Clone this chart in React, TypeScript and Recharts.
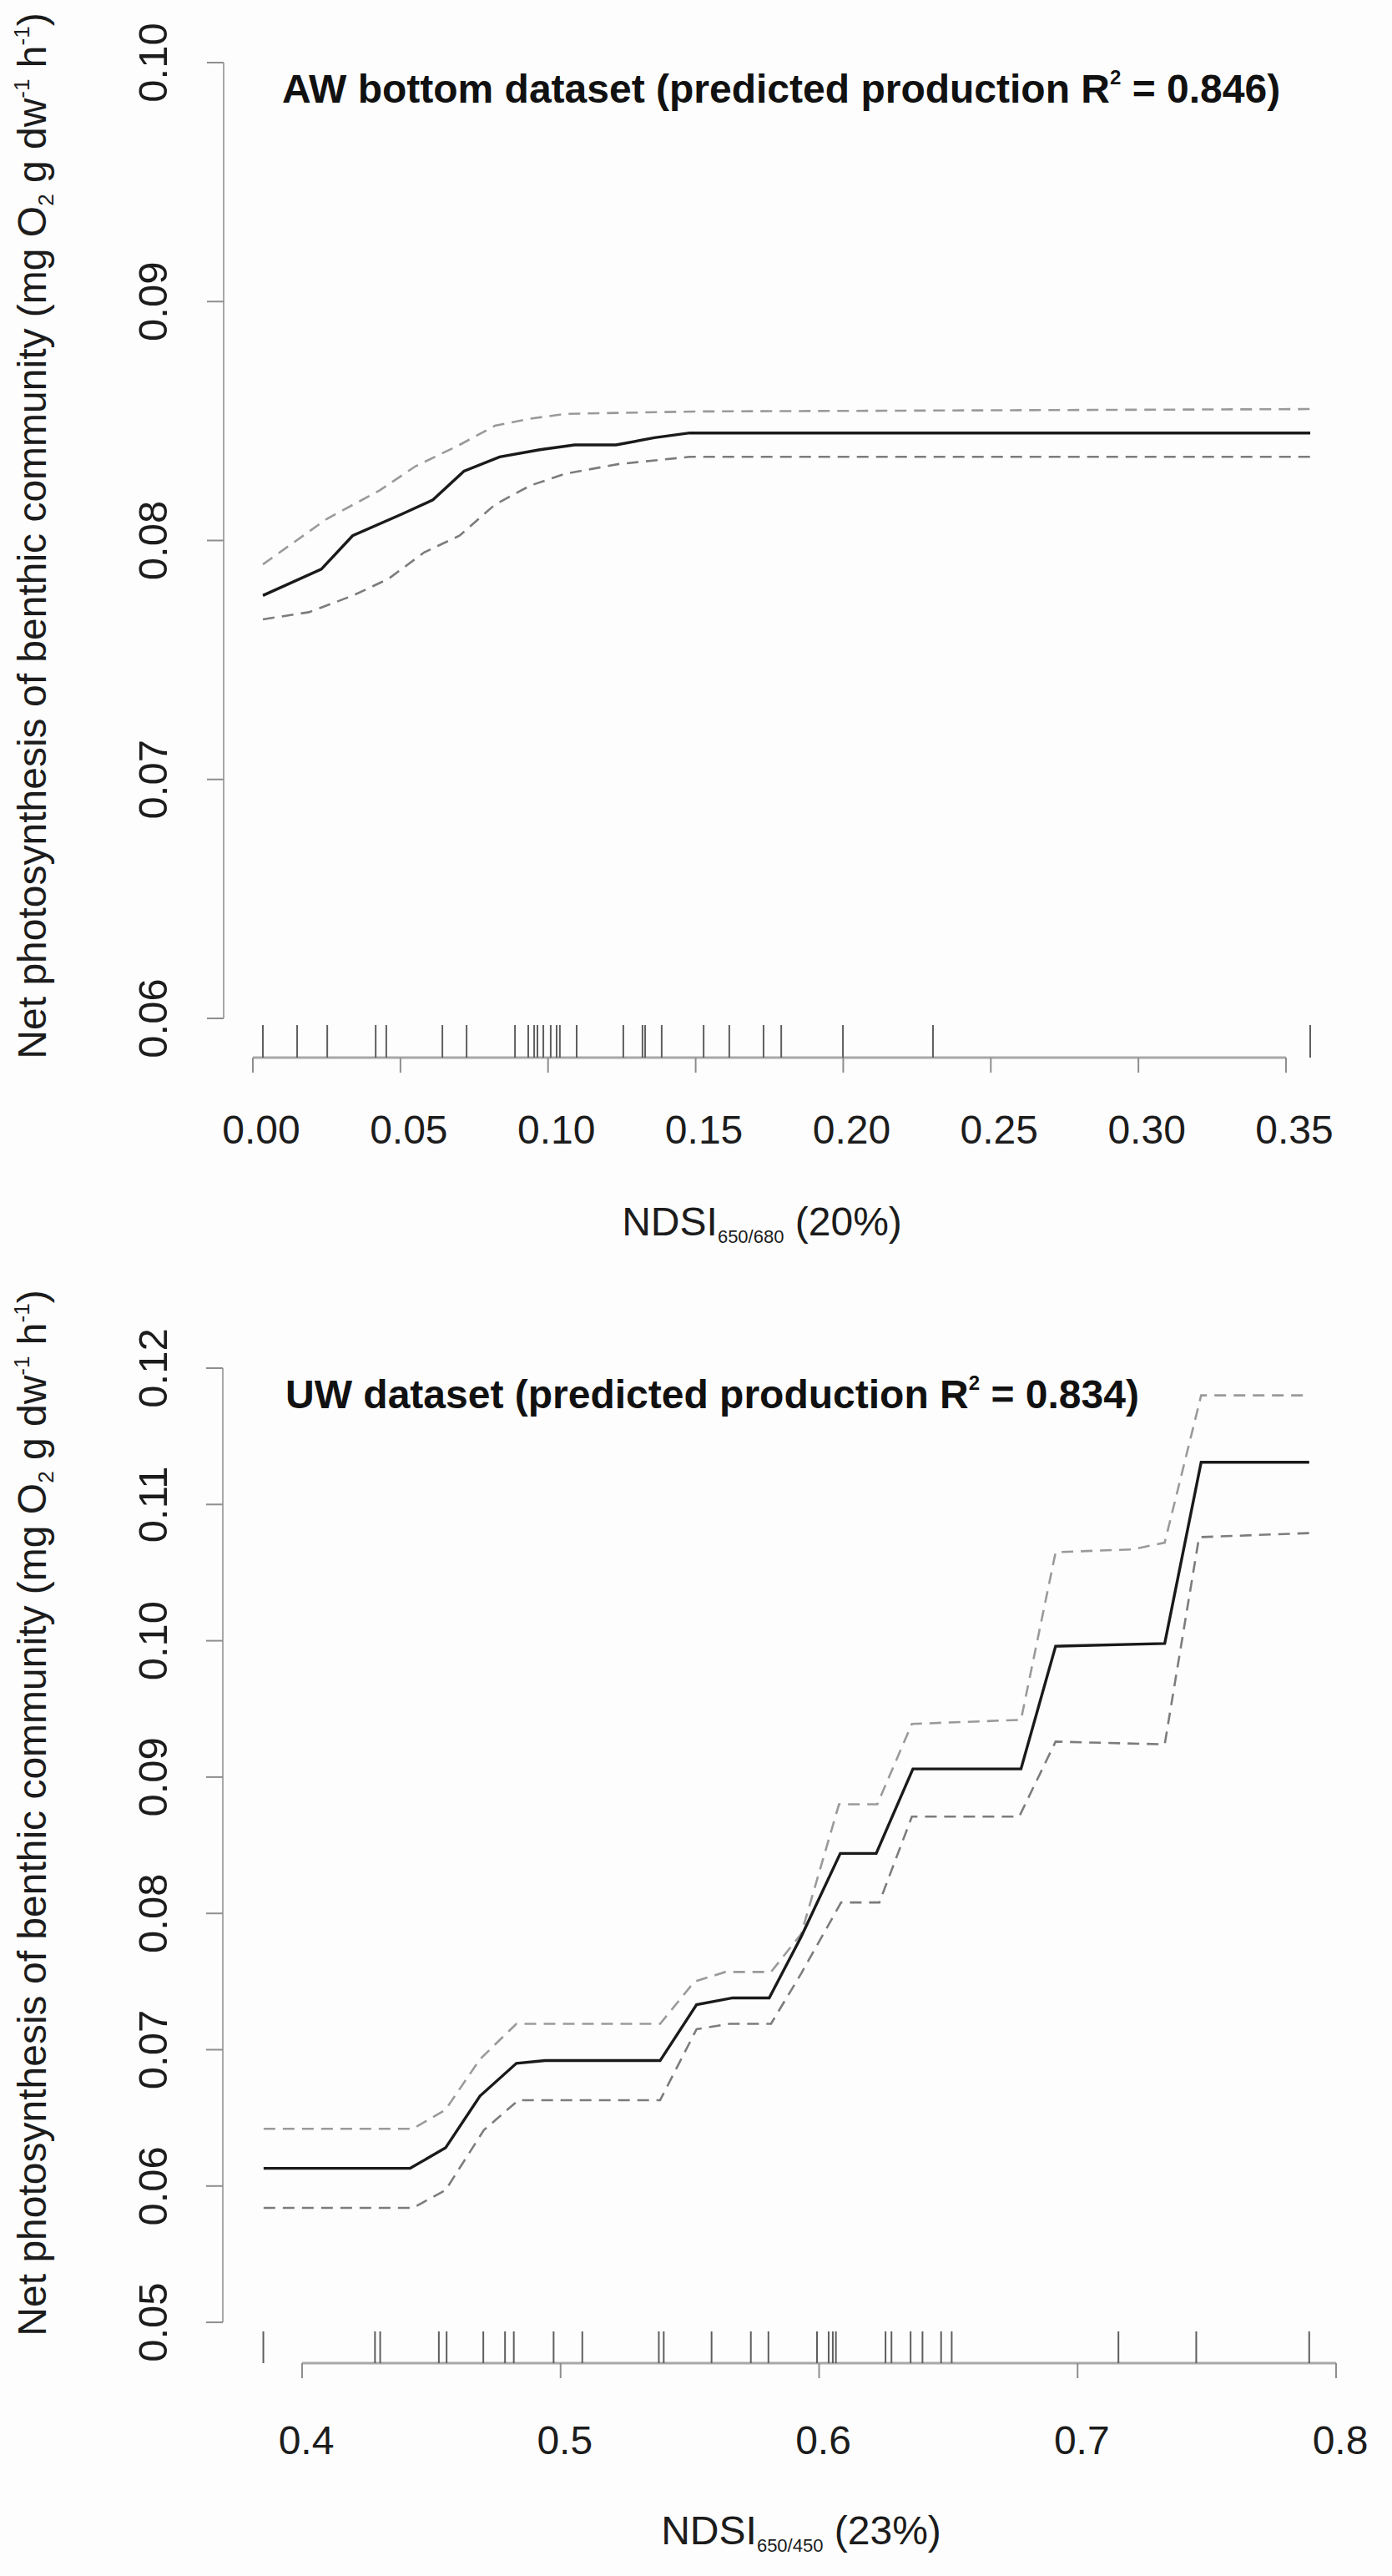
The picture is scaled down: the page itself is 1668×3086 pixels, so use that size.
import React from 'react';
import { LineChart, Line, XAxis, YAxis, ReferenceLine } from 'recharts';

const FONT = '"Liberation Sans", Arial, Helvetica, sans-serif';

// ---------- Panel 1: AW bottom dataset ----------
const awFitX = [0.0034, 0.0232, 0.0338, 0.0504, 0.061, 0.0715, 0.0836, 0.0972, 0.109, 0.123, 0.136, 0.148, 0.3582];
const awFitY = [0.0777, 0.0788, 0.0802, 0.0811, 0.0817, 0.0829, 0.0835, 0.0838, 0.084, 0.084, 0.0843, 0.0845, 0.0845];
const awUpperX = [0.0034, 0.025, 0.043, 0.055, 0.07, 0.082, 0.094, 0.106, 0.15, 0.3582];
const awUpperY = [0.079, 0.0809, 0.0821, 0.0831, 0.084, 0.0848, 0.0851, 0.0853, 0.0854, 0.0855];
const awLowerX = [0.0034, 0.019, 0.034, 0.046, 0.058, 0.07, 0.082, 0.094, 0.106, 0.124, 0.148, 0.3582];
const awLowerY = [0.0767, 0.077, 0.0777, 0.0784, 0.0795, 0.0802, 0.0815, 0.0823, 0.0828, 0.0832, 0.0835, 0.0835];
const awRug = [
  0.0034, 0.015, 0.0252, 0.0416, 0.0452, 0.0642, 0.0724, 0.0888, 0.0933, 0.0953, 0.0964, 0.0984,
  0.1009, 0.1029, 0.104, 0.1097, 0.1255, 0.132, 0.1329, 0.1385, 0.1527, 0.1614, 0.173, 0.179,
  0.1999, 0.2304, 0.3582,
];
const awXTicks = [0, 0.05, 0.1, 0.15, 0.2, 0.25, 0.3, 0.35];
const awXTickLabels = ['0.00', '0.05', '0.10', '0.15', '0.20', '0.25', '0.30', '0.35'];
const awYTicks = [0.06, 0.07, 0.08, 0.09, 0.1];
const awYTickLabels = ['0.06', '0.07', '0.08', '0.09', '0.10'];

// ---------- Panel 2: UW dataset ----------
const uwFitX = [0.3851, 0.4418, 0.4555, 0.4688, 0.4829, 0.494, 0.5385, 0.5526, 0.5666, 0.5807, 0.5931, 0.6082, 0.6221, 0.6363, 0.6781, 0.6915, 0.7337, 0.7478, 0.7896];
const uwFitY = [0.0613, 0.0613, 0.0628, 0.0666, 0.069, 0.0692, 0.0692, 0.0733, 0.0738, 0.0738, 0.0783, 0.0844, 0.0844, 0.0906, 0.0906, 0.0996, 0.0998, 0.1131, 0.1131];
const uwUpperX = [0.3851, 0.4429, 0.4555, 0.4688, 0.4829, 0.5385, 0.5518, 0.5637, 0.5814, 0.5931, 0.6077, 0.6225, 0.6359, 0.6781, 0.6915, 0.7211, 0.7337, 0.7478, 0.7896];
const uwUpperY = [0.0642, 0.0642, 0.0656, 0.0693, 0.0719, 0.0719, 0.075, 0.0757, 0.0757, 0.0785, 0.088, 0.088, 0.0939, 0.0942, 0.1065, 0.1067, 0.1072, 0.118, 0.118];
const uwLowerX = [0.3851, 0.4429, 0.4555, 0.4703, 0.4837, 0.5385, 0.5526, 0.5652, 0.5814, 0.5931, 0.6085, 0.6233, 0.6359, 0.6774, 0.6915, 0.7337, 0.747, 0.7896];
const uwLowerY = [0.0584, 0.0584, 0.0597, 0.0641, 0.0663, 0.0663, 0.0715, 0.0719, 0.0719, 0.0756, 0.0808, 0.0808, 0.0871, 0.0871, 0.0926, 0.0924, 0.1076, 0.1079];
const uwRug = [
  0.385, 0.4282, 0.4302, 0.4529, 0.4559, 0.4701, 0.4785, 0.4819, 0.4973, 0.5084, 0.538, 0.5399,
  0.5584, 0.5736, 0.5804, 0.5992, 0.6037, 0.6053, 0.6065, 0.6257, 0.628, 0.6354, 0.64, 0.6472,
  0.6513, 0.7158, 0.7459, 0.7896,
];
const uwXTicks = [0.4, 0.5, 0.6, 0.7, 0.8];
const uwXTickLabels = ['0.4', '0.5', '0.6', '0.7', '0.8'];
const uwYTicks = [0.05, 0.06, 0.07, 0.08, 0.09, 0.1, 0.11, 0.12];
const uwYTickLabels = ['0.05', '0.06', '0.07', '0.08', '0.09', '0.10', '0.11', '0.12'];

const toPoints = (xs: number[], ys: number[]) => xs.map((x, i) => ({ x, y: ys[i] }));

type PanelCfg = {
  titleStart: string;
  titleEnd: string;
  titleX: number;
  titleY: number;
  sub: string;
  pct: string;
  fit: { x: number; y: number }[];
  upper: { x: number; y: number }[];
  lower: { x: number; y: number }[];
  rug: number[];
  rugTop: number;
  xDomain: [number, number];
  yDomain: [number, number];
  xTicks: number[];
  xTickLabels: string[];
  yTicks: number[];
  yTickLabels: string[];
  margin: { top: number; right: number; bottom: number; left: number };
  yAxisWidth: number;
  xLabelDx: number;
  xLabelBase: number;
  xTitleX: number;
  xTitleY: number;
  yTitleX: number;
  yTitleY: number;
};

const panels: PanelCfg[] = [
  {
    titleStart: 'AW bottom dataset (predicted production R',
    titleEnd: ' = 0.846)',
    titleX: 338,
    titleY: 123,
    sub: '650/680',
    pct: ' (20%)',
    fit: toPoints(awFitX, awFitY),
    upper: toPoints(awUpperX, awUpperY),
    lower: toPoints(awLowerX, awLowerY),
    rug: awRug,
    rugTop: 0.059721,
    xDomain: [-0.009895, 0.366679],
    yDomain: [0.058358, 0.1],
    xTicks: awXTicks,
    xTickLabels: awXTickLabels,
    yTicks: awYTicks,
    yTickLabels: awYTickLabels,
    margin: { top: 75, right: 68, bottom: 76, left: 0 },
    yAxisWidth: 268,
    xLabelDx: 10,
    xLabelBase: 1370,
    xTitleX: 913,
    xTitleY: 1480,
    yTitleX: 55,
    yTitleY: 642,
  },
  {
    titleStart: 'UW dataset (predicted production R',
    titleEnd: ' = 0.834)',
    titleX: 342,
    titleY: 144,
    sub: '650/450',
    pct: ' (23%)',
    fit: toPoints(uwFitX, uwFitY),
    upper: toPoints(uwUpperX, uwUpperY),
    lower: toPoints(uwLowerX, uwLowerY),
    rug: uwRug,
    rugTop: 0.049333,
    xDomain: [0.36933, 0.806134],
    yDomain: [0.047006, 0.12],
    xTicks: uwXTicks,
    xTickLabels: uwXTickLabels,
    yTicks: uwYTicks,
    yTickLabels: uwYTickLabels,
    margin: { top: 96, right: 48, bottom: 55, left: 0 },
    yAxisWidth: 267,
    xLabelDx: 5,
    xLabelBase: 1397,
    xTitleX: 960,
    xTitleY: 1505,
    yTitleX: 55,
    yTitleY: 629,
  },
];

const AXIS_GREY = '#a8a8a8';
const TICK_GREY = '#8e8e8e';

function Panel({ cfg }: { cfg: PanelCfg }) {
  const W = 1668;
  const H = 1543;
  const lastX = cfg.xTicks[cfg.xTicks.length - 1];
  const lastY = cfg.yTicks[cfg.yTicks.length - 1];

  const xTick = (props: any) => {
    const { x, payload } = props;
    const idx = cfg.xTicks.indexOf(payload.value);
    const label = idx >= 0 ? cfg.xTickLabels[idx] : String(payload.value);
    return (
      <text x={x + cfg.xLabelDx} y={cfg.xLabelBase} textAnchor="middle" fontSize={48} fontFamily={FONT} fill="#1c1c1c">
        {label}
      </text>
    );
  };

  const yTick = (props: any) => {
    const { y, payload } = props;
    const idx = cfg.yTicks.indexOf(payload.value);
    const label = idx >= 0 ? cfg.yTickLabels[idx] : String(payload.value);
    const bx = 200;
    return (
      <text
        x={bx}
        y={y}
        transform={`rotate(-90, ${bx}, ${y})`}
        textAnchor="middle"
        fontSize={49}
        fontFamily={FONT}
        fill="#1c1c1c"
      >
        {label}
      </text>
    );
  };

  const xTitle = () => (
    <text x={cfg.xTitleX} y={cfg.xTitleY} textAnchor="middle" fontSize={48} fontFamily={FONT} fill="#1c1c1c">
      NDSI
      <tspan fontSize={22} dy={9}>{cfg.sub}</tspan>
      <tspan fontSize={48} dy={-9}>{cfg.pct}</tspan>
    </text>
  );

  const yTitle = () => (
    <text
      x={cfg.yTitleX}
      y={cfg.yTitleY}
      transform={`rotate(-90, ${cfg.yTitleX}, ${cfg.yTitleY})`}
      textAnchor="middle"
      fontSize={48}
      fontFamily={FONT}
      fill="#1c1c1c"
    >
      Net photosynthesis of benthic community (mg O
      <tspan fontSize={26} dy={9}>2</tspan>
      <tspan fontSize={48} dy={-9}> g dw</tspan>
      <tspan fontSize={26} dy={-20}>-1</tspan>
      <tspan fontSize={48} dy={20}> h</tspan>
      <tspan fontSize={26} dy={-20}>-1</tspan>
      <tspan fontSize={48} dy={20}>)</tspan>
    </text>
  );

  return (
    <div style={{ position: 'relative', width: W, height: H }}>
      <LineChart width={W} height={H} margin={cfg.margin}>
        <XAxis
          type="number"
          dataKey="x"
          domain={cfg.xDomain}
          allowDataOverflow
          ticks={cfg.xTicks}
          interval={0}
          height={200}
          tickSize={18}
          axisLine={false}
          tickLine={{ stroke: TICK_GREY, strokeWidth: 2 }}
          tick={xTick}
          label={{ content: xTitle }}
        />
        <YAxis
          type="number"
          dataKey="y"
          domain={cfg.yDomain}
          allowDataOverflow
          ticks={cfg.yTicks}
          interval={0}
          width={cfg.yAxisWidth}
          tickSize={20}
          axisLine={false}
          tickLine={{ stroke: TICK_GREY, strokeWidth: 2 }}
          tick={yTick}
          label={{ content: yTitle }}
        />
        <ReferenceLine
          segment={[
            { x: cfg.xDomain[0], y: cfg.yTicks[0] },
            { x: cfg.xDomain[0], y: lastY },
          ]}
          stroke={AXIS_GREY}
          strokeWidth={2}
          ifOverflow="visible"
        />
        <ReferenceLine
          segment={[
            { x: cfg.xTicks[0], y: cfg.yDomain[0] },
            { x: lastX, y: cfg.yDomain[0] },
          ]}
          stroke={AXIS_GREY}
          strokeWidth={3}
          ifOverflow="visible"
        />
        {cfg.rug.map((v, i) => (
          <ReferenceLine
            key={`rug-${i}`}
            segment={[
              { x: v, y: cfg.rugTop },
              { x: v, y: cfg.yDomain[0] },
            ]}
            stroke="#5e5e5e"
            strokeWidth={2}
            ifOverflow="visible"
          />
        ))}
        <Line
          data={cfg.upper}
          dataKey="y"
          type="linear"
          stroke="#9a9a9a"
          strokeWidth={2.6}
          strokeDasharray="14 9"
          dot={false}
          activeDot={false}
          isAnimationActive={false}
        />
        <Line
          data={cfg.lower}
          dataKey="y"
          type="linear"
          stroke="#7c7c7c"
          strokeWidth={2.6}
          strokeDasharray="14 9"
          dot={false}
          activeDot={false}
          isAnimationActive={false}
        />
        <Line
          data={cfg.fit}
          dataKey="y"
          type="linear"
          stroke="#1a1a1a"
          strokeWidth={3.4}
          dot={false}
          activeDot={false}
          isAnimationActive={false}
        />
      </LineChart>
      <svg
        width={W}
        height={H}
        style={{ position: 'absolute', left: 0, top: 0, pointerEvents: 'none' }}
      >
        <text x={cfg.titleX} y={cfg.titleY} fontSize={48} fontWeight="bold" fontFamily={FONT} fill="#111">
          {cfg.titleStart}
          <tspan fontSize={24} dy={-22}>2</tspan>
          <tspan fontSize={48} dy={22}>{cfg.titleEnd}</tspan>
        </text>
      </svg>
    </div>
  );
}

export default function App() {
  return (
    <div
      style={{
        position: 'absolute',
        left: 0,
        top: 0,
        width: 1668,
        height: 3086,
        background: '#fdfdfd',
        overflow: 'hidden',
      }}
    >
      <Panel cfg={panels[0]} />
      <Panel cfg={panels[1]} />
    </div>
  );
}
